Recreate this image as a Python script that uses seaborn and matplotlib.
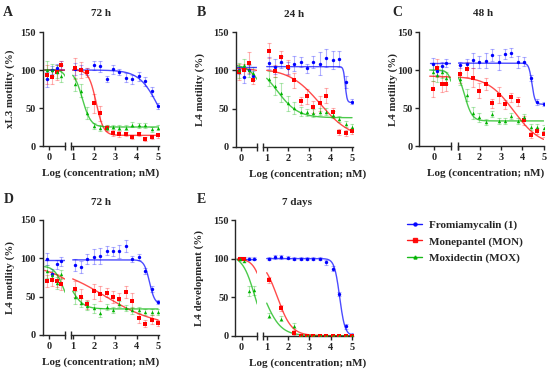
import numpy as np
import matplotlib
matplotlib.use("Agg")
import matplotlib.pyplot as plt
from matplotlib.lines import Line2D
import seaborn as sns

sns.set_style("ticks")
plt.rcParams["font.family"] = ["Liberation Serif", "DejaVu Serif"]
plt.rcParams["font.weight"] = "bold"
plt.rcParams["axes.linewidth"] = 1.0

# log10 concentration (nM); first 4 sit on the left (compressed) segment
log_conc = [-0.12, 0.18, 0.49, 0.79, 1.09, 1.39, 1.69, 1.99, 2.29, 2.59,
            2.89, 3.19, 3.49, 3.80, 4.10, 4.40, 4.70, 5.00]

series_names = ["Fromiamycalin (1)", "Monepantel (MON)", "Moxidectin (MOX)"]
series_colors = ["#0000ff", "#ff0000", "#00b400"]
series_markers = ["o", "s", "^"]

nan = np.nan

# A - xL3 motility 72 h
a_blue = [88, 100, 102, 106, 101, 101, 98, 106, 105, 88, 101, 97, 90, 88, 92, 85, 72, 53]
a_red = [94, 91, 97, 106, 102, 100, 97, 56, 43, 24, 17, 16, 16, 12, 16, 9, 12, 14]
a_green = [100, 100, 98, 92, 81, 73, 43, 26, 24, 24, 25, 24, 24, 28, 27, 27, 22, 24]
a_blue_err = [10, 5, 6, 6, 8, 6, 4, 6, 7, 4, 6, 4, 6, 6, 6, 6, 6, 4]
a_red_err = [12, 10, 10, 6, 14, 10, 6, 12, 10, 4, 4, 4, 3, 3, 3, 3, 3, 3]
a_green_err = [12, 8, 8, 8, 8, 8, 8, 4, 4, 3, 3, 3, 3, 3, 3, 3, 3, 3]
# fit params: top, bottom, logEC50, hill
a_fits = [(100, 0, 5.05, 0.95), (100, 14, 2.1, 2.5), (100, 25, 1.45, 2.2)]

# B - L4 motility 24 h
b_blue = [100, 92, 101, 93, 110, 105, 111, 103, 109, 111, 103, 111, 109, 116, 114, 115, 85, 59]
b_red = [98, 100, 110, 88, 126, 99, 118, 104, 87, 60, 66, 52, 57, 67, 45, 19, 18, 20]
b_green = [100, 107, 100, 96, 89, 80, 71, 57, 51, 46, 45, 44, 46, 46, 42, 36, 30, 26]
b_blue_err = [5, 8, 6, 6, 8, 10, 8, 8, 10, 6, 6, 8, 15, 12, 12, 10, 8, 3]
b_red_err = [10, 8, 14, 6, 10, 8, 8, 10, 10, 5, 10, 8, 10, 10, 6, 4, 4, 4]
b_green_err = [10, 8, 8, 8, 10, 12, 12, 10, 8, 6, 5, 5, 5, 5, 5, 4, 4, 4]
b_fits = [(105, 58, 4.68, 10), (103, 10, 3.5, 0.6), (108, 38, 1.5, 0.9)]

# C - L4 motility 48 h
c_blue = [108, 99, 105, 109, 107, 108, 113, 110, 112, 120, 110, 121, 123, 110, 111, 90, 58, 55]
c_red = [75, 103, 81, 82, 95, 101, 90, 73, 82, 56, 67, 55, 64, 59, 34, 14, 20, 16]
c_green = [97, 94, 97, 89, 88, 67, 43, 38, 31, 42, 33, 33, 40, 33, 38, 25, 25, 24]
c_blue_err = [8, 6, 6, 5, 4, 6, 10, 8, 10, 8, 10, 6, 6, 8, 6, 4, 4, 3]
c_red_err = [10, 12, 10, 10, 12, 10, 12, 10, 8, 6, 10, 6, 6, 6, 6, 4, 4, 4]
c_green_err = [12, 10, 8, 8, 8, 8, 8, 6, 4, 4, 4, 4, 4, 4, 4, 4, 4, 4]
c_fits = [(109, 55, 4.45, 6), (92, 0, 3.6, 0.7), (100, 33, 1.3, 2.5)]

# D - L4 motility 72 h
d_blue = [99, 80, 92, 96, 91, 89, 99, 102, 103, 110, 109, 109, 116, 99, 102, 83, 60, 43]
d_red = [70, 72, 71, 67, 60, 50, 40, 57, 54, 55, 50, 47, 56, 45, 22, 15, 20, 16]
d_green = [83, 78, 68, 79, 49, 42, 38, 35, 29, 37, 33, 40, 35, 32, 33, 30, 30, 30]
d_blue_err = [8, 6, 6, 6, 8, 8, 6, 10, 10, 6, 6, 8, 8, 4, 4, 4, 4, 3]
d_red_err = [8, 8, 8, 8, 10, 10, 6, 10, 10, 6, 8, 8, 8, 10, 6, 4, 6, 4]
d_green_err = [8, 6, 8, 6, 8, 6, 6, 6, 6, 4, 4, 4, 4, 4, 4, 4, 4, 4]
d_fits = [(98, 40, 4.6, 3.5), (92, 10, 2.5, 0.35), (90, 34, 0.9, 1.5)]

# E - L4 development 7 days
e_blue = [100, 100, 100, 100, 100, 102, 102, 101, 100, 100, 100, 100, 100, 95, 87, 54, 12, 1]
e_red = [100, 100, nan, nan, 72, nan, 36, nan, 4, 0, 0, 0, 0, 0, 0, 0, 0, 0]
e_green = [100, 97, 58, 59, 26, nan, 22, nan, 13, 0, 0, 0, 0, 0, 0, 0, 0, 0]
e_blue_err = [2, 2, 2, 2, 2, 2, 2, 2, 2, 2, 2, 2, 2, 3, 3, 3, 3, 2]
e_red_err = [2, 2, 0, 0, 4, 0, 4, 0, 3, 1, 1, 1, 1, 1, 1, 1, 1, 1]
e_green_err = [2, 2, 6, 6, 3, 0, 3, 0, 3, 1, 1, 1, 1, 1, 1, 1, 1, 1]
e_fits = [(100, 0, 4.42, 3.5), (100, 0, 1.5, 1.3), (104, 0, 0.85, 1.1)]

panels = [
    dict(letter="A", title="72 h", ylabel="xL3 motility (%)",
         values=[a_blue, a_red, a_green], errs=[a_blue_err, a_red_err, a_green_err], fits=a_fits),
    dict(letter="B", title="24 h", ylabel="L4 motility (%)",
         values=[b_blue, b_red, b_green], errs=[b_blue_err, b_red_err, b_green_err], fits=b_fits),
    dict(letter="C", title="48 h", ylabel="L4 motility (%)",
         values=[c_blue, c_red, c_green], errs=[c_blue_err, c_red_err, c_green_err], fits=c_fits),
    dict(letter="D", title="72 h", ylabel="L4 motility (%)",
         values=[d_blue, d_red, d_green], errs=[d_blue_err, d_red_err, d_green_err], fits=d_fits),
    dict(letter="E", title="7 days", ylabel="L4 development (%)",
         values=[e_blue, e_red, e_green], errs=[e_blue_err, e_red_err, e_green_err], fits=e_fits),
]

# layout in pixels: y-spine x, left xlim, right-axis start x, right xlim, top, bottom,
# title x, letter x, xlabel x, ylabel x
layouts = [
    (42.7, (-0.43, 1.04), 70.7, (0.906, 5.03), 32, 146, 101, 3, 100.5, 10),
    (236.0, (-0.33, 1.06), 263.3, (0.84, 5.03), 32.3, 146.7, 294, 197, 308, 200),
    (419.3, (-0.98, 1.08), 457.7, (0.97, 5.03), 32, 146, 483, 392, 486, 393),
    (42.7, (-0.43, 1.04), 70.7, (0.906, 5.03), 220, 335, 101, 4, 100.5, 10),
    (235.3, (-0.41, 1.02), 263.3, (0.84, 5.03), 220, 335.7, 297, 197, 308, 199),
]

W, H = 550, 371
PX_R = 21.33
PX_L = 15.36
FS = 7.5


def four_pl(x, top, bottom, ec50, hill):
    return bottom + (top - bottom) / (1 + 10 ** ((x - ec50) * hill))


def box(x_left, width, top, bottom):
    return [x_left / W, 1 - bottom / H, width / W, (bottom - top) / H]


fig = plt.figure(figsize=(W / 100, H / 100), dpi=100)

x_all = np.array(log_conc)
for p, (x0, lxl, rx0, rxl, top, bot, tx, lx, xlx, ylx) in zip(panels, layouts):
    axL = fig.add_axes(box(x0, (lxl[1] - lxl[0]) * PX_L, top, bot))
    axR = fig.add_axes(box(rx0, (rxl[1] - rxl[0]) * PX_R, top, bot))

    for ax, sl, xl, cx in [(axL, slice(0, 4), lxl, (-0.3, lxl[1])),
                           (axR, slice(4, 18), rxl, (1.0, 5.0))]:
        xs = np.linspace(cx[0], cx[1], 200)
        for vals, err, fit, col, mk in zip(p["values"], p["errs"], p["fits"],
                                           series_colors, series_markers):
            sns.lineplot(x=xs, y=four_pl(xs, *fit), ax=ax, color=col, lw=1.0,
                         alpha=0.7, zorder=2)
            xv = x_all[sl]
            yv = np.array(vals, dtype=float)[sl]
            ev = np.array(err, dtype=float)[sl]
            ax.errorbar(xv, yv, yerr=ev, fmt="none", ecolor=col, alpha=0.3,
                        elinewidth=0.8, capsize=1.5, capthick=0.8, zorder=1)
            sns.scatterplot(x=xv, y=yv, ax=ax, color=col, marker=mk, s=6,
                            linewidth=0, zorder=3)
        ax.set_xlim(*xl)
        ax.set_ylim(0, 150)
        ax.set_xlabel("")
        ax.set_ylabel("")
        ax.spines["top"].set_visible(False)
        ax.spines["right"].set_visible(False)
        ax.tick_params(which="major", length=3, width=1.0, labelsize=FS, pad=2)
        ax.tick_params(which="minor", length=6, width=1.0, direction="inout")
        ax.set_facecolor("none")

    axL.set_xticks([0])
    axL.set_xticks([lxl[1]], minor=True)
    axL.set_yticks([0, 50, 100, 150])
    axR.set_xticks([1, 2, 3, 4, 5])
    axR.set_xticks([rxl[0]], minor=True)
    axR.spines["left"].set_visible(False)
    axR.tick_params(axis="y", left=False, labelleft=False)
    for lab in axL.get_xticklabels() + axL.get_yticklabels() + axR.get_xticklabels():
        lab.set_fontweight("bold")

    fig.text(tx / W, 1 - (top - 18) / H, p["title"], ha="center", va="center",
             fontsize=FS + 0.5, fontweight="bold")
    fig.text(lx / W, 1 - (top - 20) / H, p["letter"], ha="left", va="center",
             fontsize=10, fontweight="bold")
    fig.text(xlx / W, 1 - (bot + 27) / H, "Log (concentration; nM)", ha="center",
             va="center", fontsize=FS + 0.5, fontweight="bold")
    fig.text(ylx / W, 1 - ((top + bot) / 2) / H, p["ylabel"], ha="center",
             va="center", rotation=90, fontsize=FS + 0.3, fontweight="bold")

handles = [Line2D([0], [0], color=c, marker=m, markersize=2.2, lw=1.0, alpha=0.9)
           for c, m in zip(series_colors, series_markers)]
fig.legend(handles, series_names, loc="upper left",
           bbox_to_anchor=(403 / W, 1 - 216 / H), frameon=False,
           prop={"size": FS + 0.5, "weight": "bold"}, handlelength=1.3,
           handletextpad=0.6, labelspacing=0.55, borderaxespad=0)

fig.savefig("out.png", dpi=100)
